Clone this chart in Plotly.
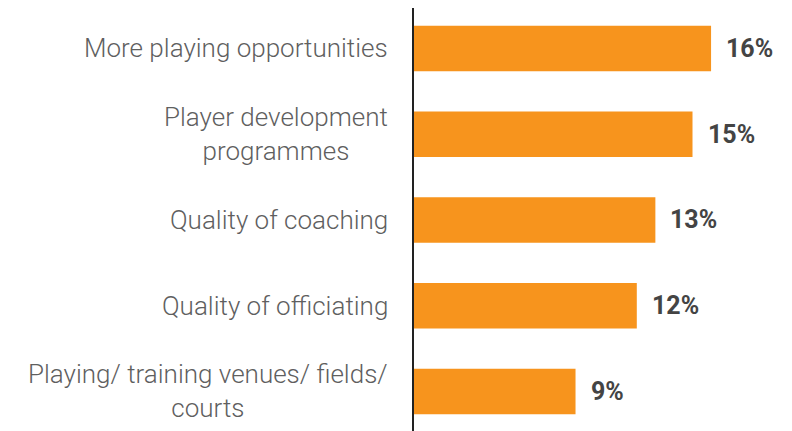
import plotly.graph_objects as go

categories = [
    "More playing opportunities",
    "Player development<br>programmes",
    "Quality of coaching",
    "Quality of officiating",
    "Playing/ training venues/ fields/<br>courts",
]
values = [16.0, 15.0, 13.0, 12.0, 8.7]

bar_color = "#F7941D"
label_color = "#5f5f5f"
value_color = "#444444"
font_family = "Roboto, Inter, Arial, sans-serif"

fig = go.Figure()

fig.add_trace(go.Bar(
    x=values,
    y=categories,
    orientation="h",
    marker=dict(color=bar_color, line=dict(width=0)),
    width=0.53,
    hoverinfo="skip",
))

# value labels beside the bars
for cat, val in zip(categories, values):
    fig.add_annotation(
        x=val, y=cat, xref="x", yref="y",
        text=f"<b>{val:.0f}%</b>",
        showarrow=False, xanchor="left", xshift=13,
        font=dict(family=font_family, size=25, color=value_color),
    )

# category labels, centred line by line like the original
for cat in categories:
    fig.add_annotation(
        x=0, y=cat, xref="x", yref="y",
        text=cat, align="center",
        showarrow=False, xanchor="right", xshift=-24,
        font=dict(family=font_family, size=26, color=label_color, weight=300),
    )

# page body has an 8px margin, so the figure is offset by 8px
fig.update_layout(
    width=792, height=431,
    margin=dict(l=406, r=0, t=0, b=0),
    plot_bgcolor="white", paper_bgcolor="white",
    showlegend=False,
    xaxis=dict(range=[0, 20.79], visible=False, fixedrange=True),
    yaxis=dict(
        type="category",
        range=[4.554, -0.472],
        showticklabels=False,
        showgrid=False, zeroline=False,
        showline=True, linecolor="#222222", linewidth=2,
        ticks="",
    ),
)

fig.write_html("out.html")
